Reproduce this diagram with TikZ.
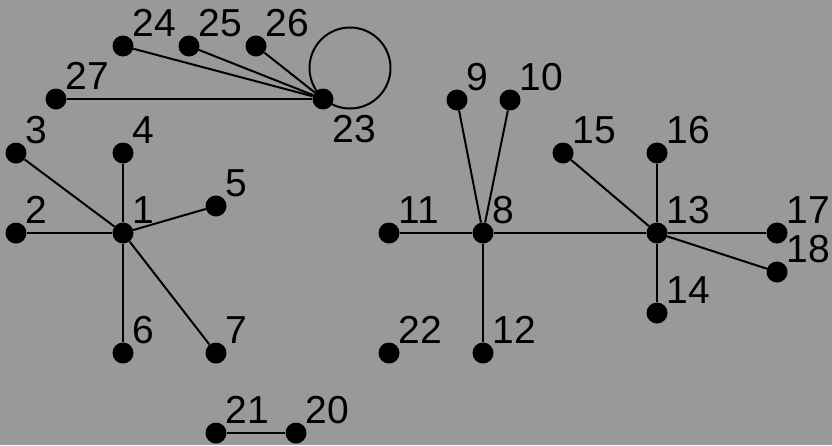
\documentclass[tikz,border=0pt]{standalone}
\usepackage{fontspec}
\setmainfont{Liberation Sans}
\usepackage{tikz}

\definecolor{bggray}{RGB}{153,153,153}

\begin{document}
\begin{tikzpicture}[x=1pt, y=-1pt, label distance=2.5pt,
    vertex/.style={circle, fill=black, inner sep=0pt, minimum size=21pt},
    tag/.style={anchor=base west, inner sep=0pt, font=\fontsize{39pt}{39pt}\selectfont},
    lab/.style={label={[tag]45:#1}},
    edge/.style={line width=2pt}]
    \fill[bggray] (0,0) rectangle (832,445);
    \useasboundingbox (0,0) rectangle (832,445);

    % left star
    \node[vertex, lab=1] (v1) at (123,233) {};
    \node[vertex, lab=2] (v2) at (16,233) {};
    \node[vertex, lab=3] (v3) at (16,153) {};
    \node[vertex, lab=4] (v4) at (123,153) {};
    \node[vertex, lab=5] (v5) at (216,206) {};
    \node[vertex, lab=6] (v6) at (123,353) {};
    \node[vertex, lab=7] (v7) at (216,353) {};

    % right tree
    \node[vertex, lab=8] (v8) at (483,233) {};
    \node[vertex, lab=9] (v9) at (457,100) {};
    \node[vertex, lab=10] (v10) at (510,100) {};
    \node[vertex, lab=11] (v11) at (389,233) {};
    \node[vertex, lab=12] (v12) at (483,353) {};
    \node[vertex, lab=13] (v13) at (657,233) {};
    \node[vertex, lab=14] (v14) at (657,313) {};
    \node[vertex, lab=15] (v15) at (563,153) {};
    \node[vertex, lab=16] (v16) at (657,153) {};
    \node[vertex, lab=17] (v17) at (777,233) {};
    \node[vertex, lab=18] (v18) at (777,272) {};

    % small pieces
    \node[vertex, lab=20] (v20) at (296,433) {};
    \node[vertex, lab=21] (v21) at (216,433) {};
    \node[vertex, lab=22] (v22) at (389,353) {};

    % top fan
    \node[vertex, label={[tag, anchor=north west, yshift=-7pt]-45:23}] (v23) at (323,99) {};
    \node[vertex, lab=24] (v24) at (123,46) {};
    \node[vertex, lab=25] (v25) at (189,46) {};
    \node[vertex, lab=26] (v26) at (256,46) {};
    \node[vertex, lab=27] (v27) at (56,99) {};

    \foreach \a/\b in {1/2, 1/3, 1/4, 1/5, 1/6, 1/7,
                       8/9, 8/10, 8/11, 8/12, 8/13,
                       13/14, 13/15, 13/16, 13/17, 13/18,
                       21/20, 23/24, 23/25, 23/26, 23/27}
        \draw[edge] (v\a) -- (v\b);

    \draw[edge] ([shift={(27,-31)}]v23.center) circle[radius=40.5pt];
\end{tikzpicture}
\end{document}
